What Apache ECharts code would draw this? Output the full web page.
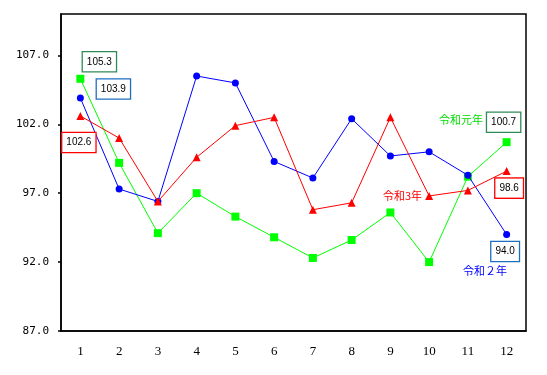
<!DOCTYPE html>
<html><head><meta charset="utf-8">
<script src="https://cdn.jsdelivr.net/npm/echarts@6/dist/echarts.min.js"></script>
<style>html,body{margin:0;padding:0;background:#fff}#c{width:547px;height:375px}</style>
</head><body><div id="c"></div>
<script>
var months = ['1','2','3','4','5','6','7','8','9','10','11','12'];
var r1 = [105.3, 99.2, 94.1, 97.0, 95.3, 93.8, 92.3, 93.6, 95.6, 92.0, 98.2, 100.7];
var r2 = [103.9, 97.3, 96.4, 105.5, 105.0, 99.3, 98.1, 102.4, 99.7, 100.0, 98.3, 94.0];
var r3 = [102.6, 101.0, 96.4, 99.6, 101.9, 102.5, 95.8, 96.3, 102.5, 96.8, 97.2, 98.6];
var seriesNames = ['令和元年', '令和２年', '令和3年'];
var yTicks = [87, 92, 97, 102, 107];

function boxLabel(color, dx, dy) {
  return {show: true, position: 'inside', offset: [dx, dy], formatter: function(p){return p.value.toFixed(1);},
    backgroundColor: '#fff', borderColor: color, borderWidth: 1.3, padding: [5, 4, 4, 4],
    color: '#000', fontSize: 10, fontFamily: 'Liberation Sans, Arial'};
}
function build(arr, labels) {
  return arr.map(function(v, i){
    var d = {value: v};
    if (labels[i]) d.label = labels[i];
    return d;
  });
}
var chart = echarts.init(document.getElementById('c'));
chart.setOption({
  animation: false,
  backgroundColor: '#fff',
  grid: {left: 61, right: 21, top: 14, bottom: 44, show: true, borderColor: '#000', borderWidth: 1.5, backgroundColor: 'transparent'},
  xAxis: {type: 'category', data: months, boundaryGap: true,
    axisLine: {lineStyle: {color: '#000', width: 1.5}},
    axisTick: {inside: true, length: 5, lineStyle: {color: '#000', width: 1.5}},
    axisLabel: {color: '#000', fontSize: 13, fontFamily: 'Liberation Serif, serif', margin: 14}},
  yAxis: {type: 'value', min: 87, max: 110, interval: 5,
    axisLine: {show: true, lineStyle: {color: '#000', width: 1.5}},
    axisTick: {show: true, length: 3, lineStyle: {color: '#000', width: 1.5}},
    splitLine: {show: false},
    axisLabel: {color: '#000', fontSize: 11, fontFamily: 'DejaVu Sans Mono, monospace', margin: 12, showMaxLabel: false,
      formatter: function(v){ return yTicks.indexOf(v) >= 0 ? v.toFixed(1) : ''; }}},
  series: [
    {name: seriesNames[0], type: 'line', symbol: 'rect', symbolSize: 8, z: 2,
     itemStyle: {color: '#00ff00'}, lineStyle: {color: '#00ff00', width: 1},
     data: build(r1, {0: boxLabel('#2e8b57', 19, -17), 11: boxLabel('#2e8b57', -3, -20)})},
    {name: seriesNames[1], type: 'line', symbol: 'circle', symbolSize: 7, z: 3,
     itemStyle: {color: '#0000ff'}, lineStyle: {color: '#0000ff', width: 1},
     data: build(r2, {0: boxLabel('#1f6fc0', 33, -9), 11: boxLabel('#1f6fc0', -1.5, 17)})},
    {name: seriesNames[2], type: 'line', symbol: 'triangle', symbolSize: 8, z: 4,
     itemStyle: {color: '#ff0000'}, lineStyle: {color: '#ff0000', width: 1},
     data: build(r3, {0: boxLabel('#ff0000', -1.5, 26.5), 11: boxLabel('#ff0000', 2.5, 17)})}
  ],
  graphic: [
    {type: 'text', left: 439, top: 114, z: 10, style: {text: seriesNames[0], fill: '#00dd00', font: '11px "Noto Sans CJK JP"'}},
    {type: 'text', left: 463, top: 265, z: 10, style: {text: seriesNames[1], fill: '#0000ff', font: '11px "Noto Sans CJK JP"'}},
    {type: 'text', left: 383, top: 190, z: 10, style: {text: seriesNames[2], fill: '#ff0000', font: '11px "Noto Sans CJK JP"'}}
  ]
});
</script></body></html>
